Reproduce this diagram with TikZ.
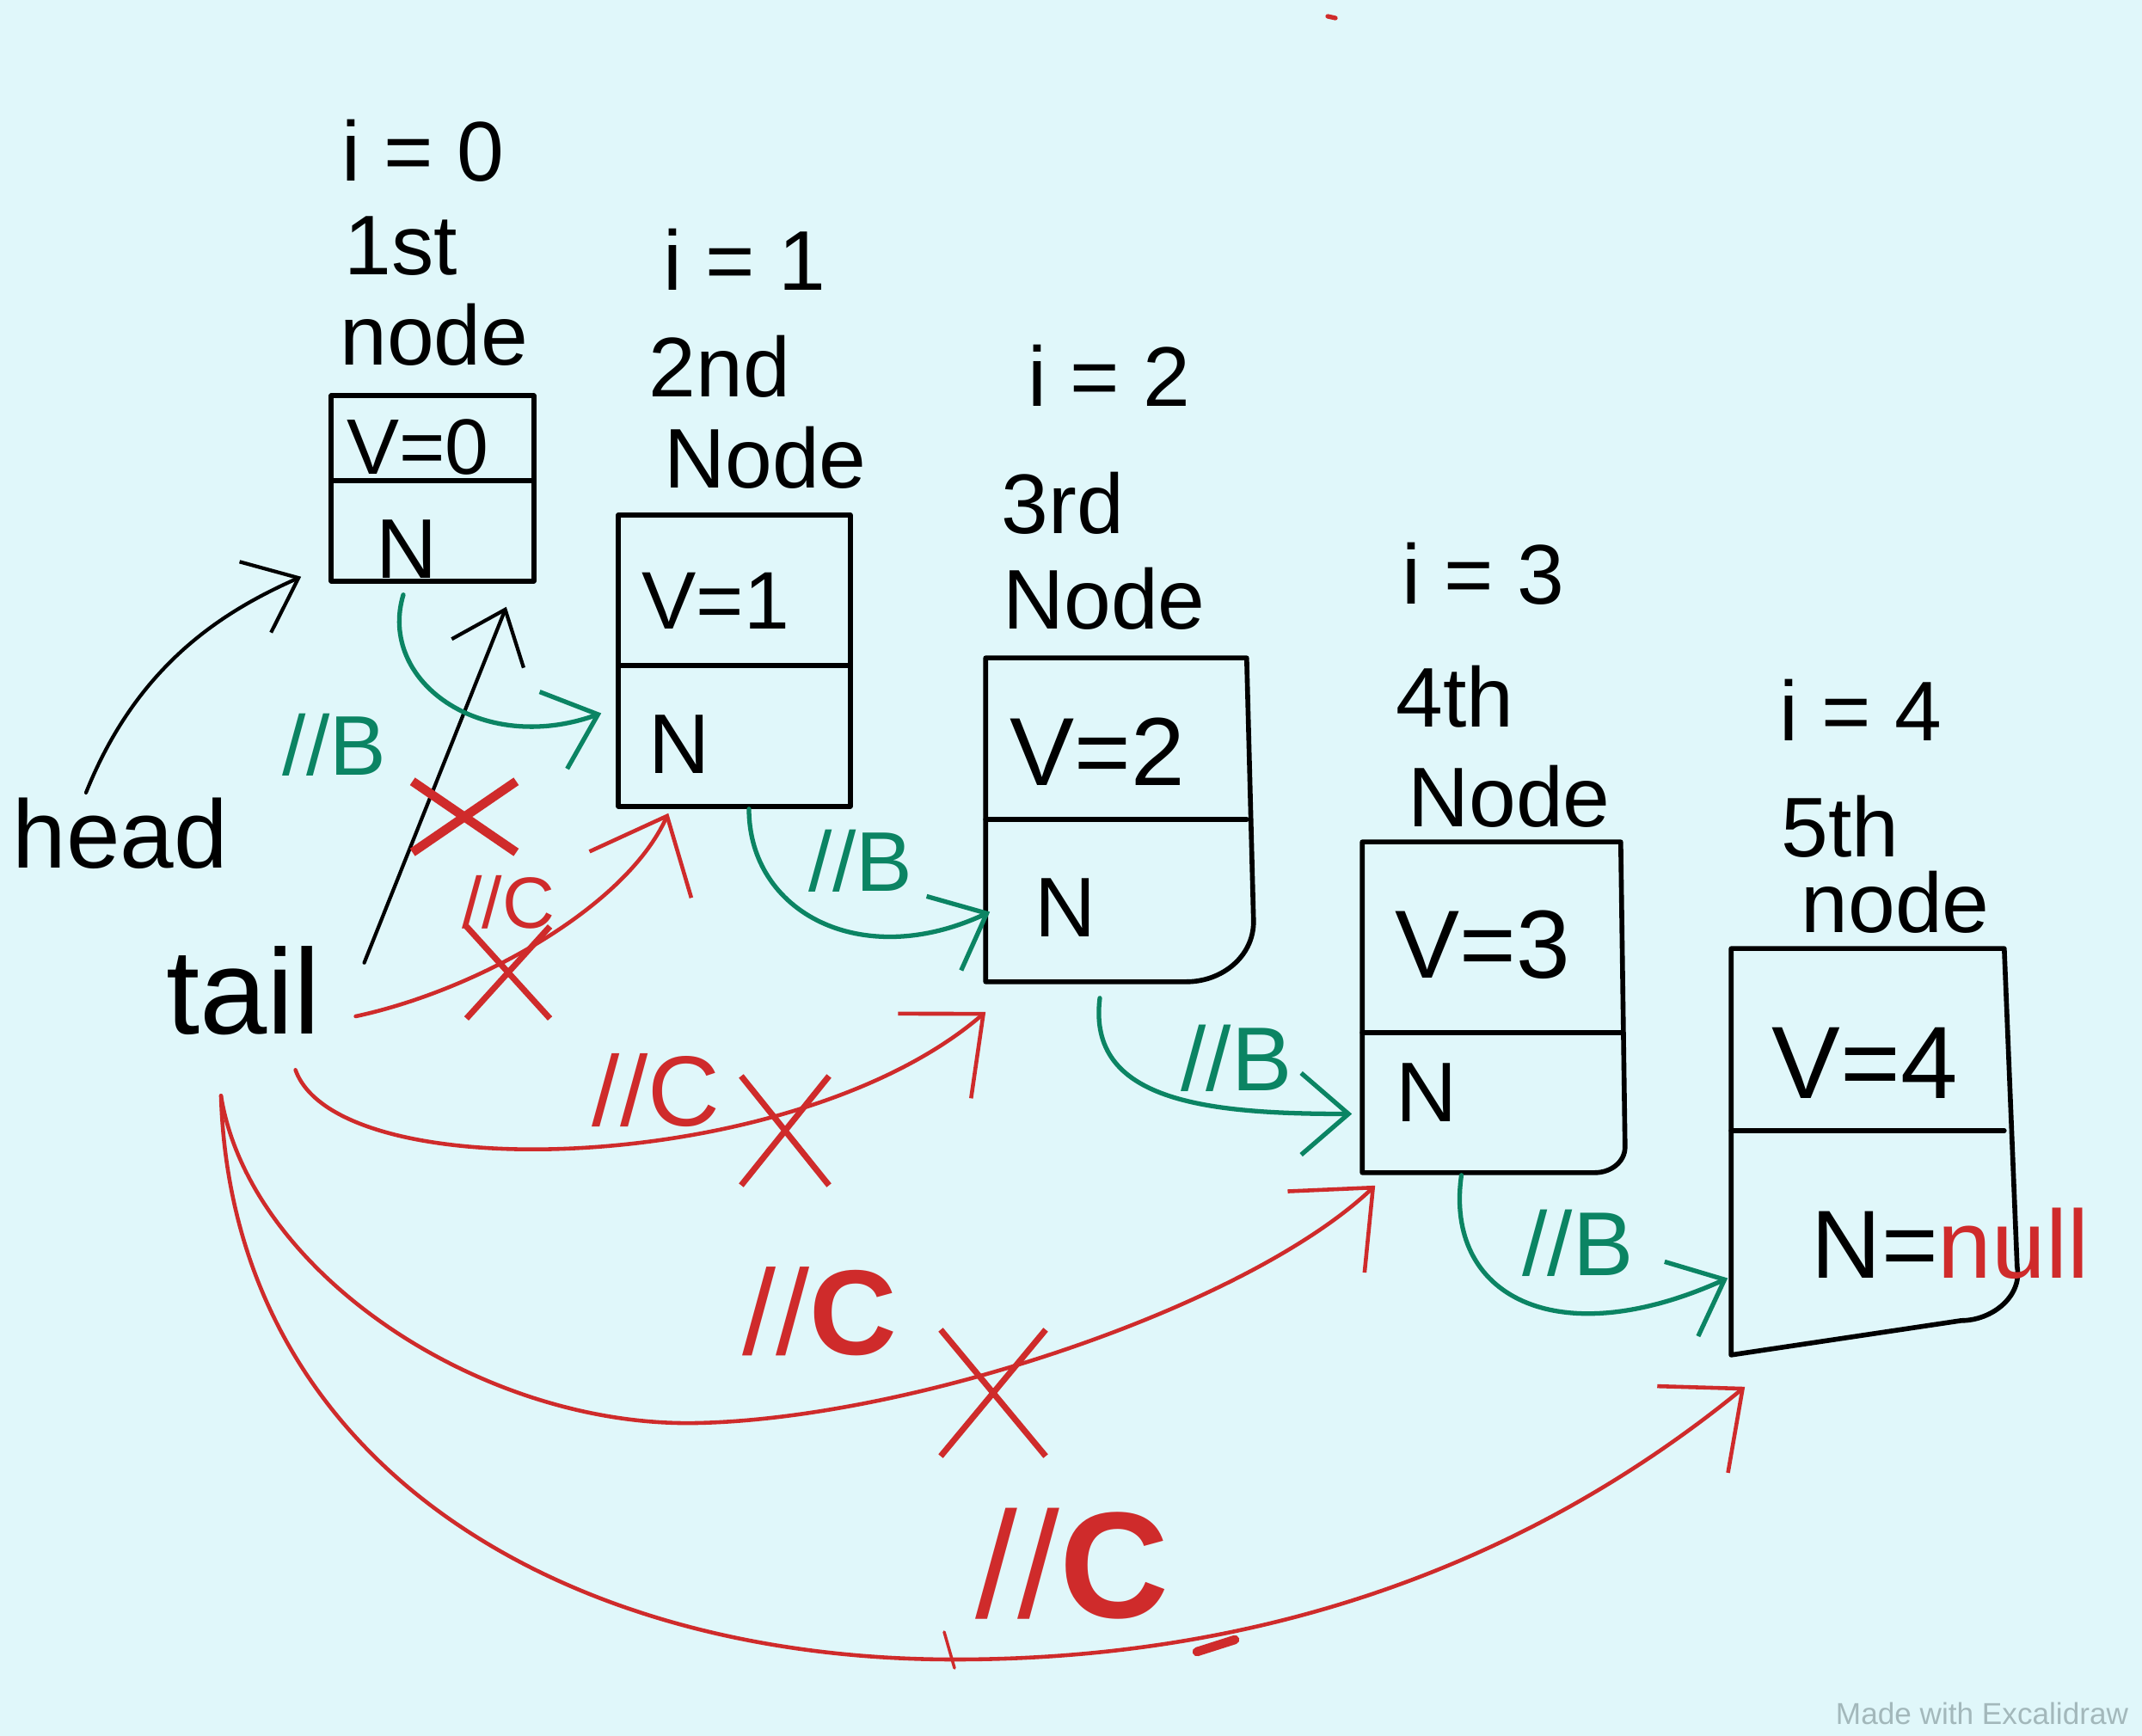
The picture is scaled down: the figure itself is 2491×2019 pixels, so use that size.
\documentclass[tikz,border=0pt]{standalone}
\usepackage{fontspec}
\setmainfont{Liberation Sans}
\usetikzlibrary{arrows.meta,calc,shapes.misc}
\definecolor{bg}{HTML}{E0F7FA}
\definecolor{cred}{HTML}{CF2B2B}
\definecolor{cgreen}{HTML}{0B8463}
\definecolor{wmgray}{HTML}{A3B8BB}
\begin{document}
\begin{tikzpicture}[x=0.01cm,y=-0.01cm,
  boxline/.style={line width=1.6pt,line join=round,line cap=round},
  box/.style={inner sep=0pt,draw=none},
  txt/.style={inner sep=0pt,font=\fontsize{28}{32}\selectfont},
  vtxt/.style={inner sep=0pt,font=\fontsize{32}{36}\selectfont},
  gl/.style={inner sep=0pt,text=cgreen,font=\fontsize{28}{32}\selectfont},
  rl/.style={inner sep=0pt,text=cred},
  xmark/.style={cross out,draw=cred,line width=3pt,inner sep=0pt},
  blkarr/.style={draw=black,line width=1.2pt,line cap=round,-{Straight Barb[length=0.55cm,width=0.9cm]}},
  redarr/.style={draw=cred,line width=1.3pt,line cap=round,-{Straight Barb[length=0.75cm,width=1.3cm]}},
  grnarr/.style={draw=cgreen,line width=1.5pt,line cap=round,-{Straight Barb[length=0.55cm,width=0.95cm]}}
]
\fill[bg] (0,0) rectangle (2491,2019);
\useasboundingbox (0,0) rectangle (2491,2019);

% boxes
\node[box,minimum width=2.34cm,minimum height=2.14cm] (b0) at (503,568) {};
\node[box,minimum width=2.68cm,minimum height=3.37cm] (b1) at (854,768.5) {};
\node[box,minimum width=3.02cm,minimum height=3.75cm] (b2) at (1298,953.5) {};
\node[box,minimum width=2.99cm,minimum height=3.83cm] (b3) at (1734.5,1171.5) {};
\node[box,minimum width=3.16cm,minimum height=4.71cm] (b4) at (2172,1339.5) {};

\draw[boxline] (b0.south west) rectangle (b0.north east);
\draw[boxline] (b1.south west) rectangle (b1.north east);
\draw[boxline] (b2.south west) -- (b2.north west) -- (b2.north east)
  -- ($(b2.south east)+(8,-70)$) to[out=-90,in=0] ($(b2.south east)+(-70,0)$) -- (b2.south west);
\draw[boxline] (b3.south west) -- (b3.north west) -- (b3.north east)
  -- ($(b3.south east)+(5,-30)$) to[out=-90,in=0] ($(b3.south east)+(-30,0)$) -- (b3.south west);
\draw[boxline] (b4.south west) -- (b4.north west) -- (b4.north east)
  -- ($(b4.north east)+(15,370)$) to[out=-80,in=0] ($(b4.south east)+(-50,-40)$) -- (b4.south west);

\draw[boxline] (b0.west |- 0,559) -- (b0.east |- 0,559);
\draw[boxline] (b1.west |- 0,774) -- (b1.east |- 0,774);
\draw[boxline] (b2.west |- 0,953) -- (b2.east |- 0,953);
\draw[boxline] (b3.west |- 0,1201) -- (b3.east |- 0,1201);
\draw[boxline] (b4.west |- 0,1315) -- (b4.east |- 0,1315);

% titles
\node[txt] (i0) at (492,175) {i = 0};
\node[txt] (o0) at (466,286) {1st};
\node[txt] (n0) at (505,389) {node};
\node[txt] (i1) at (866,302) {i = 1};
\node[txt] (o1) at (837,426) {2nd};
\node[txt] (n1) at (890,532) {Node};
\node[txt] (i2) at (1290,437) {i = 2};
\node[txt] (o2) at (1236,585) {3rd};
\node[txt] (n2) at (1284,696) {Node};
\node[txt] (i3) at (1725,667) {i = 3};
\node[txt] (o3) at (1692,810) {4th};
\node[txt] (n3) at (1755,926) {Node};
\node[txt] (i4) at (2164,826) {i = 4};
\node[txt] (o4) at (2140,961) {5th};
\node[txt] (n4) at (2204,1049) {node};

% contents
\node[txt,font=\fontsize{26}{30}\selectfont] (v0) at (486,520) {V=0};
\node[txt] (p0) at (473,639) {N};
\node[txt,font=\fontsize{27}{30}\selectfont] (v1) at (832,699) {V=1};
\node[txt] (p1) at (790,866) {N};
\node[vtxt] (v2) at (1276,874) {V=2};
\node[txt] (p2) at (1239,1056) {N};
\node[vtxt] (v3) at (1724,1099) {V=3};
\node[txt] (p3) at (1659,1271) {N};
\node[vtxt,font=\fontsize{34}{38}\selectfont] (v4) at (2169,1236) {V=4};
\node[txt,font=\fontsize{32}{36}\selectfont] (p4) at (2268,1446) {N=\textcolor{cred}{null}};

% head / tail
\node[txt,font=\fontsize{32}{36}\selectfont] (head) at (140,969) {head};
\node[txt,font=\fontsize{40}{44}\selectfont] (tail) at (283,1152) {tail};

% labels
\node[gl] (lb1) at (389,866) {//B};
\node[gl] (lb2) at (1001,1001) {//B};
\node[gl,font=\fontsize{30}{34}\selectfont] (lb3) at (1438,1231) {//B};
\node[gl,font=\fontsize{30}{34}\selectfont] (lb4) at (1835,1446) {//B};
\node[rl,font=\fontsize{24}{28}\selectfont] (lc1) at (591,1049) {//C};
\node[rl,font=\fontsize{33}{36}\selectfont] (lc2) at (763,1268) {//C};
\node[rl,font=\fontsize{40}{44}\selectfont] (lc3) at (953,1525) {//\textbf{C}};
\node[rl,font=\fontsize{50}{54}\selectfont] (lc4) at (1247,1819) {//\textbf{C}};

% black arrows
\draw[blkarr] ($(head.north)+(-40,-5)$) .. controls +(60,-150) and +(-90,40) .. ($(b0.south west)+(-35,-5)$);
\draw[blkarr] ($(tail.north east)+(50,20)$) -- ($(b0.south east)+(-32,30)$);

% green arrows
\draw[grnarr] ($(b0.south)+(-34,16)$) .. controls +(-30,100) and +(-140,50) .. ($(b1.west)+(-20,61)$);
\draw[grnarr] ($(b1.south)+(17,3)$) .. controls +(0,120) and +(-150,70) .. ($(b2.west)+(5,107)$);
\draw[grnarr] ($(b2.south)+(-19,19)$) .. controls +(-15,120) and +(-170,0) .. ($(b3.west)+(-12,124)$);
\draw[grnarr] ($(b3.south)+(-35,3)$) .. controls +(-20,140) and +(-200,90) .. ($(b4.west)+(-4,147)$);

% red arrows
\draw[redarr] ($(tail.east)+(40,30)$) .. controls +(140,-30) and +(-50,110) .. ($(b1.south west)+(58,8)$);
\draw[redarr] ($(tail.south east)+(-30,40)$) .. controls +(50,140) and +(-220,190) .. ($(b2.south west)+(0,35)$);
\draw[redarr] ($(tail.south)+(-26,70)$) .. controls (290,1480) and (560,1660) .. (810,1655)
  .. controls (1060,1650) and (1450,1520) .. ($(b3.south west)+(15,15)$);
\draw[redarr] ($(tail.south)+(-26,70)$) .. controls (270,1700) and (650,1930) .. (1110,1930)
  .. controls (1500,1930) and (1800,1800) .. ($(b4.south west)+(16,37)$);

% crosses
\node[xmark,minimum width=1.1cm,minimum height=0.72cm] (x1) at (540,950) {};
\node[xmark,line width=2pt,minimum width=0.9cm,minimum height=1.0cm] (x2) at (591,1131) {};
\node[xmark,line width=2pt,minimum width=0.95cm,minimum height=1.2cm] (x3) at (913,1315) {};
\node[xmark,line width=2pt,minimum width=1.15cm,minimum height=1.4cm] (x4) at (1155,1620) {};

% small marks
\draw[cred,line width=1.5pt,line cap=round] (1544,19) -- (1553,21);
\draw[cred,line width=1pt,line cap=round] (1098,1898) -- (1110,1940);
\draw[cred,line width=3pt,line cap=round] (1392,1921) -- (1436,1907);

% watermark
\node[inner sep=0pt,text=wmgray,font=\fontsize{10}{12}\selectfont] (wm) at (2305,1993) {Made with Excalidraw};
\end{tikzpicture}
\end{document}
